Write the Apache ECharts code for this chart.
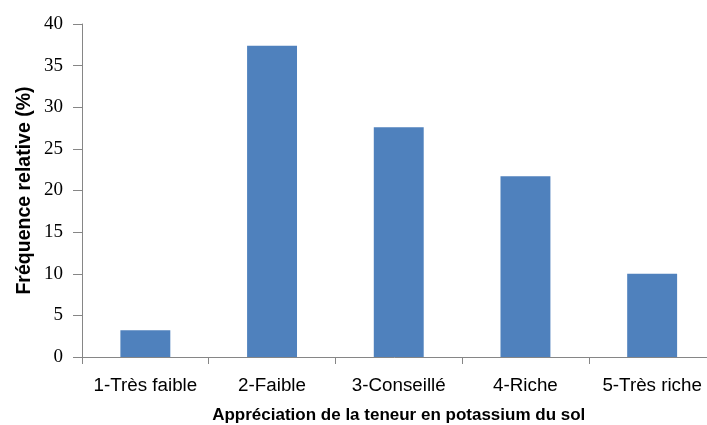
<!DOCTYPE html>
<html>
<head>
<meta charset="utf-8">
<script src="https://cdn.jsdelivr.net/npm/echarts@6/dist/echarts.min.js"></script>
<style>
  html, body { margin: 0; padding: 0; background: #ffffff; }
  #chart { width: 707px; height: 425px; }
</style>
</head>
<body>
<div id="chart"></div>
<script>
// Classes d'appréciation de la teneur en potassium
const categories = ['1-Très faible', '2-Faible', '3-Conseillé', '4-Riche', '5-Très riche'];
// Fréquence relative (%) par classe
const frequencies = [3.2, 37.4, 27.6, 21.7, 10.0];
// Graduations de l'axe des ordonnées
const yTicks = [0, 5, 10, 15, 20, 25, 30, 35, 40];

const axisGrey = '#868686';
const chart = echarts.init(document.getElementById('chart'), null, { renderer: 'canvas' });

chart.setOption({
  animation: false,
  backgroundColor: '#ffffff',
  grid: {
    left: 82, right: -8.5, top: 24, bottom: 68,
    containLabel: false,
    outerBoundsMode: 'none'
  },
  xAxis: {
    type: 'category',
    data: categories,
    boundaryGap: true,
    name: 'Appréciation de la teneur en potassium du sol',
    nameLocation: 'middle',
    nameGap: 50,
    nameMoveOverlap: false,
    nameTextStyle: {
      fontFamily: 'Liberation Sans, Arial, sans-serif',
      fontWeight: 'bold',
      fontSize: 17,
      color: '#000000'
    },
    axisLine: { show: true, lineStyle: { color: axisGrey, width: 1 } },
    axisTick: { show: true, alignWithLabel: false, length: 7, lineStyle: { color: axisGrey } },
    axisLabel: {
      fontFamily: 'Liberation Sans, Arial, sans-serif',
      fontSize: 18.8,
      color: '#000000',
      margin: 19,
      interval: 0
    },
    splitLine: { show: false }
  },
  yAxis: {
    type: 'value',
    min: yTicks[0],
    max: yTicks[yTicks.length - 1],
    interval: 5,
    name: 'Fréquence relative (%)',
    nameLocation: 'middle',
    nameGap: 47,
    nameMoveOverlap: false,
    nameRotate: 90,
    nameTextStyle: {
      fontFamily: 'Liberation Sans, Arial, sans-serif',
      fontWeight: 'bold',
      fontSize: 19.5,
      color: '#000000'
    },
    axisLine: { show: true, lineStyle: { color: axisGrey, width: 1 } },
    axisTick: { show: true, length: 9, lineStyle: { color: axisGrey } },
    axisLabel: {
      fontFamily: 'Liberation Serif, Times New Roman, serif',
      fontSize: 19,
      color: '#000000',
      margin: 19
    },
    splitLine: { show: false }
  },
  series: [{
    type: 'bar',
    data: frequencies,
    barWidth: '39.4%',
    itemStyle: { color: '#4F81BD' }
  }]
});
</script>
</body>
</html>
